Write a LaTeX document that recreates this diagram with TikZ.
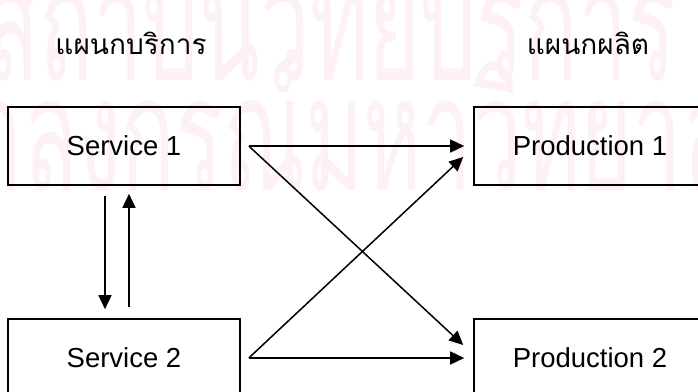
\documentclass[tikz,border=0pt]{standalone}
\usepackage{fontspec}
\setmainfont{Liberation Sans}
\newfontfamily\thaifont[Script=Thai]{Loma}
\usetikzlibrary{arrows.meta,calc}
\definecolor{wmpink}{RGB}{253,241,247}
\tikzset{
  unitbox/.style={draw, line width=1.6pt, minimum width=232pt, minimum height=78pt, inner sep=0pt, font=\fontsize{27.5}{30}\selectfont},
  flow/.style={line width=1.5pt, -{Triangle[length=14pt,width=13pt]}},
  dept/.style={font=\fontsize{28}{30}\thaifont, inner sep=0pt},
  wmark/.style={text=wmpink, inner sep=0pt, font=\fontsize{160}{160}\thaifont}
}
\begin{document}
\begin{tikzpicture}[x=1pt,y=-1pt]
\useasboundingbox (0,0) rectangle (698,391);
\clip (0,0) rectangle (698,391);
% watermark
\node[wmark, anchor=base west] (wm1) at (-15,80) {\scalebox{0.555}[1]{สถาบันวิทยบริการ}};
\node[wmark, anchor=base west] (wm2) at (-139,190) {\scalebox{0.555}[1]{จุฬาลงกรณ์มหาวิทยาลัย}};
% headings
\node[dept, anchor=base] (h1) at (131,54) {แผนกบริการ};
\node[dept, anchor=base] (h2) at (588,54) {แผนกผลิต};
% boxes
\node[unitbox] (s1) at (124,146) {Service 1};
\node[unitbox] (s2) at (124,358) {Service 2};
\node[unitbox] (p1) at (590,146) {Production 1};
\node[unitbox] (p2) at (590,358) {Production 2};
% connector ends
\coordinate (s1o) at ($(s1.east)+(8,0)$);
\coordinate (s2o) at ($(s2.east)+(8,0)$);
\coordinate (p1a) at ($(p1.west)+(-9,0)$);
\coordinate (p1b) at ($(p1.west)+(-10,11)$);
\coordinate (p2a) at ($(p2.west)+(-10,-13)$);
\coordinate (p2b) at ($(p2.west)+(-9,0)$);
\draw[flow] (s1o) -- (p1a);
\draw[flow] (s1o) -- (p2a);
\draw[flow] (s2o) -- (p1b);
\draw[flow] (s2o) -- (p2b);
% vertical pair
\draw[flow] ($(s1.south)+(-19,10)$) -- ($(s2.north)+(-19,-9)$);
\draw[flow] ($(s2.north)+(5,-11)$) -- ($(s1.south)+(5,8)$);
\end{tikzpicture}
\end{document}
